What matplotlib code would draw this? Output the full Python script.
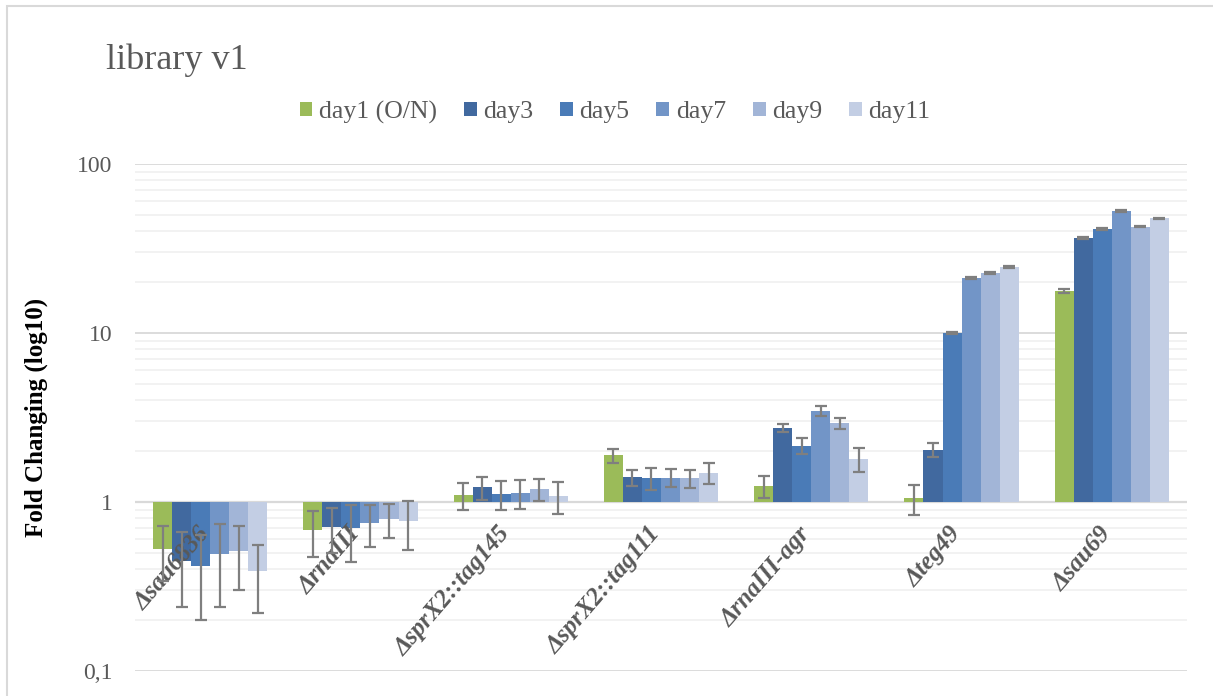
import numpy as np
import matplotlib.pyplot as plt
from matplotlib.patches import Rectangle
from matplotlib.ticker import LogLocator, NullFormatter
from matplotlib.transforms import ScaledTranslation

# data
strains = ["Δsau6836", "ΔrnaIII", "ΔsprX2::tag145", "ΔsprX2::tag111",
           "ΔrnaIII-agr", "Δteg49", "Δsau69"]
series = ["day1 (O/N)", "day3", "day5", "day7", "day9", "day11"]

day1 = [0.53, 0.68, 1.10, 1.89, 1.24, 1.05, 17.7]
day3 = [0.45, 0.71, 1.22, 1.40, 2.73, 2.03, 36.3]
day5 = [0.42, 0.70, 1.12, 1.38, 2.15, 10.0, 41.1]
day7 = [0.49, 0.75, 1.13, 1.39, 3.45, 21.1, 52.5]
day9 = [0.51, 0.79, 1.19, 1.38, 2.94, 22.6, 42.6]
day11 = [0.39, 0.77, 1.08, 1.48, 1.80, 24.5, 47.7]

err1 = [0.19, 0.21, 0.20, 0.18, 0.19, 0.21, 0.4]
err3 = [0.21, 0.21, 0.19, 0.15, 0.15, 0.19, 0.5]
err5 = [0.22, 0.26, 0.22, 0.20, 0.23, 0.20, 0.5]
err7 = [0.25, 0.21, 0.22, 0.17, 0.23, 0.30, 0.6]
err9 = [0.21, 0.18, 0.18, 0.17, 0.22, 0.30, 0.5]
err11 = [0.17, 0.25, 0.23, 0.21, 0.30, 0.30, 0.5]

yticks = [0.1, 1, 10, 100]
ytick_labels = ["0,1", "1", "10", "100"]

values = [day1, day3, day5, day7, day9, day11]
errors = [err1, err3, err5, err7, err9, err11]
colors = ["#9BBB59", "#41699F", "#4A7BB7", "#7295C7", "#A2B5D7", "#C3CEE4"]

plt.rcParams['font.family'] = ['Liberation Serif', 'DejaVu Serif']
text_col = "#595959"

fig = plt.figure(figsize=(12.13, 6.96), dpi=100)
ax = fig.add_axes([135 / 1213, 25 / 696, 1052 / 1213, 507 / 696])

# chart frame
fig.patches.append(Rectangle((7 / 1213, -0.1), 1.2, (690 / 696) + 0.1,
                             transform=fig.transFigure, fill=False,
                             edgecolor="#D9D9D9", linewidth=1.5))

x = np.arange(len(strains))
n = len(series)
w = 0.76 / n
for k in range(n):
    v = np.array(values[k])
    pos = x - 0.38 + w * (k + 0.5)
    ax.bar(pos, v - 1, bottom=1, width=w, color=colors[k], label=series[k],
           zorder=2)
    ax.errorbar(pos, v, yerr=errors[k], fmt="none", ecolor="#7F7F7F",
                elinewidth=1.6, capsize=4.3, capthick=1.6, zorder=4)

ax.set_yscale("log")
ax.set_ylim(0.1, 100)
ax.set_xlim(-0.5, len(strains) - 0.5)
ax.set_yticks(yticks)
ax.set_yticklabels(ytick_labels)
ax.yaxis.set_minor_locator(LogLocator(base=10, subs=np.arange(2, 10)))
ax.yaxis.set_minor_formatter(NullFormatter())
ax.tick_params(axis="y", which="both", length=0, pad=16, labelsize=17,
               labelcolor=text_col)
ax.set_xticks([])
ax.grid(True, axis="y", which="major", color="#D9D9D9", linewidth=1.3, zorder=0)
ax.grid(True, axis="y", which="minor", color="#EFEFEF", linewidth=1.1, zorder=0)
ax.axhline(1, color="#D9D9D9", linewidth=1.6, zorder=1)
ax.set_axisbelow(True)
for s in ax.spines.values():
    s.set_visible(False)

ax.set_ylabel("Fold Changing (log10)", fontsize=18, fontweight="bold",
              color="black")
ax.yaxis.set_label_coords((48 - 135) / 1052, 0.5)

# category labels hang just under the 1 line, rotated like Excel does
off = ScaledTranslation(4 / 100, -20 / 100, fig.dpi_scale_trans)
for i, name in enumerate(strains):
    ax.text(x[i], 1, name, transform=ax.transData + off, rotation=49,
            ha="right", va="top", fontsize=18, fontweight="bold",
            fontstyle="italic", color=text_col, zorder=3)

fig.text(106 / 1213, 1 - 69 / 696, "library v1", fontsize=26, color=text_col,
         ha="left", va="baseline")

fig.legend(loc="center", bbox_to_anchor=(615 / 1213, 1 - 112 / 696), ncol=6,
           frameon=False, fontsize=18.5, handlelength=0.5, handleheight=0.5,
           handletextpad=0.25, columnspacing=1.05, labelcolor=text_col)

fig.savefig("out.png", dpi=100)
